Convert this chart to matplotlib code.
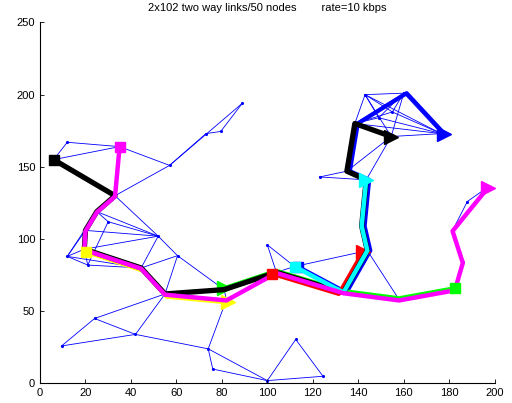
import matplotlib
matplotlib.use("Agg")
import matplotlib.pyplot as plt
import numpy as np

plt.rcParams['font.family'] = ['Liberation Sans', 'DejaVu Sans']

# node positions
node_x = [6, 12, 35, 57, 33, 89, 79.5, 73, 25, 20,
          52, 12, 19.5, 21, 60.5, 44.5, 55, 81, 82, 74,
          76, 100, 112.5, 124.5, 42, 24, 9.5, 104, 100, 112,
          133.5, 144, 141.5, 158, 182.5, 186, 181.5, 188, 197, 143.5,
          135, 123, 138.5, 154.5, 176.5, 143, 160, 155, 149, 30]
node_y = [155, 167, 164, 151, 130, 194, 174.5, 173, 119, 106,
          102, 88, 93, 82, 88.5, 80, 62, 65, 58, 24,
          10, 2, 30.5, 5, 34, 45, 26, 77, 96, 81,
          63, 92, 109, 58, 65, 84, 106, 126, 136, 141,
          147, 143, 180, 171, 173, 200, 201, 188, 184, 112]

# two way links (node index pairs)
links = [(0, 1), (0, 2), (1, 2), (2, 3), (3, 4), (3, 5), (3, 7), (7, 6), (6, 5),
         (2, 4), (0, 4), (4, 8), (4, 10), (8, 9), (8, 10), (8, 11), (9, 10),
         (9, 12), (9, 11), (12, 10), (12, 11), (12, 13), (12, 15), (11, 13),
         (11, 15), (13, 15), (10, 15), (10, 14), (14, 15), (14, 16), (14, 17),
         (15, 16), (16, 17), (16, 18), (16, 25), (16, 24), (25, 26), (25, 24),
         (26, 24), (24, 19), (19, 18), (19, 20), (19, 21), (20, 21), (21, 22),
         (21, 23), (22, 23), (17, 27), (18, 27), (17, 18), (27, 28), (28, 29),
         (27, 29), (29, 31), (29, 30), (27, 30), (30, 31), (31, 33), (30, 33),
         (33, 34), (34, 35), (35, 36), (36, 37), (37, 38), (31, 32), (32, 39),
         (39, 41), (41, 40), (40, 39), (40, 42), (40, 43), (39, 43), (42, 43),
         (43, 44), (42, 45), (42, 46), (42, 44), (42, 47), (45, 46), (45, 47),
         (45, 44), (45, 43), (46, 44), (46, 47), (46, 43), (47, 44), (48, 45),
         (48, 46), (48, 42), (48, 44), (49, 8), (49, 10), (49, 13)]

# routed flows, drawn in this order
flow_colors = ['#0000ff', '#ffff00', '#00ff00', '#ff0000', '#000000', '#00ffff', '#ff00ff']
flow_paths = [
    [29, 30, 31, 32, 39, 40, 42, 46, 44],
    [12, 15, 16, 18],
    [34, 33, 30, 27, 17],
    [27, 30, 31],
    [0, 4, 8, 9, 12, 15, 16, 17, 27, 30, 31, 32, 39, 40, 42, 43],
    [29, 30, 31, 32, 39],
    [2, 4, 8, 9, 12, 15, 16, 18, 27, 30, 33, 34, 35, 36, 38],
]
flow_dx = [1.3, 0.8, 0, -2.0, 0, 0, 0]
flow_dy = [0, -1.8, 1.0, -1.0, 0, 0, -0.5]
flow_lw = [3.0, 3.2, 3.0, 3.0, 3.8, 3.2, 3.2]
flow_z = [2, 3, 4, 5, 6, 7, 8]
start_z = [2, 20, 20, 20, 6, 7, 8]

fig = plt.figure(figsize=(5.12, 4.03), dpi=100)
ax = fig.add_axes([0.0781, 0.0484, 0.888, 0.896])

nx = np.array(node_x)
ny = np.array(node_y)
for a, b in links:
    ax.plot([nx[a], nx[b]], [ny[a], ny[b]], color='#0000ff', linewidth=0.6, zorder=1)
ax.plot(nx, ny, '.', color='#0000ff', markersize=2.5, zorder=1)

for i, path in enumerate(flow_paths):
    px = nx[path] + flow_dx[i]
    py = ny[path] + flow_dy[i]
    c = flow_colors[i]
    ax.plot(px, py, color=c, linewidth=flow_lw[i], zorder=flow_z[i])
    ax.plot(px[0], py[0], 's', color=c, markersize=7, zorder=start_z[i])
    ax.plot(px[-1], py[-1], '>', color=c, markersize=10, zorder=flow_z[i])

ax.set_xlim(0, 200)
ax.set_ylim(0, 250)
ax.set_xticks(np.arange(0, 201, 20))
ax.set_yticks(np.arange(0, 251, 50))
ax.tick_params(direction='in', length=3, labelsize=8, width=0.6)
for s in ['top', 'right']:
    ax.spines[s].set_visible(False)
for s in ['left', 'bottom']:
    ax.spines[s].set_linewidth(0.8)
ax.set_title('2x102 two way links/50 nodes        rate=10 kbps', fontsize=8, pad=8)

fig.savefig('out.png', dpi=100)
